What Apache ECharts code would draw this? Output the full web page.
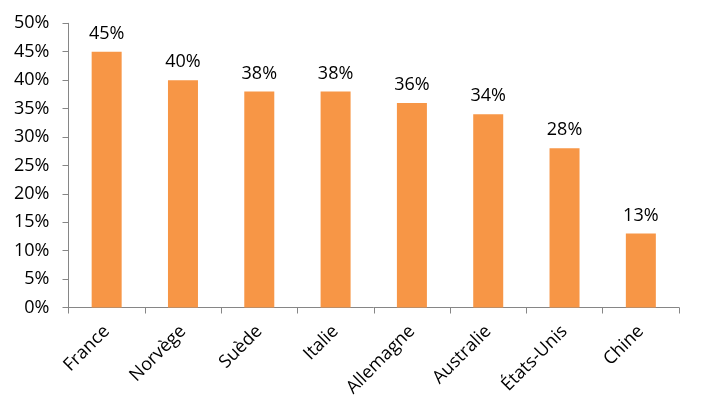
<!DOCTYPE html>
<html><head><meta charset="utf-8">
<script src="https://cdn.jsdelivr.net/npm/echarts@6/dist/echarts.min.js"></script>
<style>html,body{margin:0;padding:0;background:#fff}#c{width:702px;height:416px}</style>
</head><body><div id="c"></div>
<script>
const categories = ['France','Norvège','Suède','Italie','Allemagne','Australie','États-Unis','Chine'];
const values = [45, 40, 38, 38, 36, 34, 28, 13];
const yMin = 0, yMax = 50, yStep = 5;
const font = '"Open Sans", "Noto Sans", sans-serif';
const chart = echarts.init(document.getElementById('c'));
chart.setOption({
  animation: false,
  grid: {left: 68.5, right: 23, top: 23.3, bottom: 108.5, containLabel: false},
  xAxis: {
    type: 'category', data: categories,
    axisLine: {show: true, lineStyle: {color: '#868686', width: 1}},
    axisTick: {show: true, length: 6, lineStyle: {color: '#868686'}},
    axisLabel: {rotate: 45, margin: 21, color: '#000', fontSize: 18, fontFamily: font, interval: 0}
  },
  yAxis: {
    type: 'value', min: yMin, max: yMax, interval: yStep,
    axisLine: {show: true, lineStyle: {color: '#868686', width: 1}},
    axisTick: {show: true, length: 6, lineStyle: {color: '#868686'}},
    splitLine: {show: false},
    axisLabel: {formatter: '{value}%', color: '#000', fontSize: 18, fontFamily: font, margin: 19}
  },
  series: [{
    type: 'bar', data: values, barWidth: 30,
    itemStyle: {color: '#F79646'},
    label: {show: true, position: 'top', distance: 9, formatter: '{c}%', color: '#000', fontSize: 18, fontFamily: font}
  }]
});
</script></body></html>
